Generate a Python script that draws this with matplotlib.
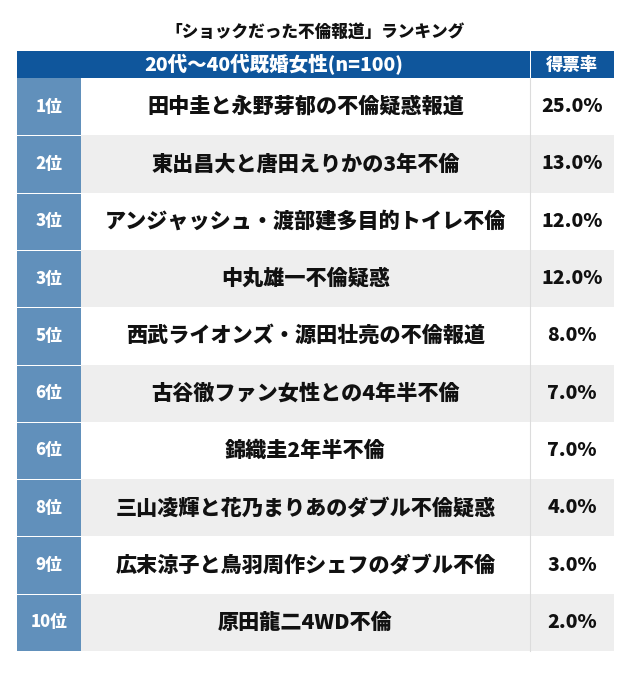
import matplotlib
matplotlib.use("Agg")
import matplotlib.pyplot as plt
from matplotlib.patches import Rectangle

plt.rcParams['font.family'] = ['Noto Sans CJK JP', 'DejaVu Sans']

title = "「ショックだった不倫報道」ランキング"
header_name = "20代〜40代既婚女性(n=100)"
header_pct = "得票率"
ranks = ["1位", "2位", "3位", "3位", "5位", "6位", "6位", "8位", "9位", "10位"]
items = [
    "田中圭と永野芽郁の不倫疑惑報道",
    "東出昌大と唐田えりかの3年不倫",
    "アンジャッシュ・渡部建多目的トイレ不倫",
    "中丸雄一不倫疑惑",
    "西武ライオンズ・源田壮亮の不倫報道",
    "古谷徹ファン女性との4年半不倫",
    "錦織圭2年半不倫",
    "三山凌輝と花乃まりあのダブル不倫疑惑",
    "広末涼子と鳥羽周作シェフのダブル不倫",
    "原田龍二4WD不倫",
]
shares = [25.0, 13.0, 12.0, 12.0, 8.0, 7.0, 7.0, 4.0, 3.0, 2.0]

W, H = 640, 674
fig = plt.figure(figsize=(W / 100, H / 100), dpi=100)
ax = fig.add_axes([0, 0, 1, 1])
ax.set_xlim(0, W)
ax.set_ylim(H, 0)
ax.axis("off")

HEADER_BLUE = "#0f569c"
RANK_BLUE = "#6190bb"
GRAY = "#eeeeee"
WT = "black"

x0, x1, x2, x3 = 17, 81, 530, 614
hy0, hy1 = 51, 78
row_h = (651 - hy1) / len(items)

ax.text((x0 + x3) / 2, 32, title, ha="center", va="center",
        fontsize=12, fontweight=WT, color="#111111")

# header
ax.add_patch(Rectangle((x0, hy0), x2 - x0, hy1 - hy0, color=HEADER_BLUE, lw=0))
ax.add_patch(Rectangle((x2 + 1, hy0), x3 - x2 - 1, hy1 - hy0, color=HEADER_BLUE, lw=0))
ax.text((x0 + x2) / 2, (hy0 + hy1) / 2, header_name, ha="center", va="center",
        fontsize=14, fontweight=WT, color="white")
ax.text((x2 + x3) / 2, (hy0 + hy1) / 2, header_pct, ha="center", va="center",
        fontsize=12.5, fontweight=WT, color="white")

for i, (r, name, s) in enumerate(zip(ranks, items, shares)):
    top = hy1 + i * row_h
    cy = top + row_h / 2
    bg = "white" if i % 2 == 0 else GRAY
    ax.add_patch(Rectangle((x1, top), x3 - x1, row_h, color=bg, lw=0))
    ax.add_patch(Rectangle((x0, top + (1 if i > 0 else 0)), x1 - x0,
                           row_h - (1 if i > 0 else 0), color=RANK_BLUE, lw=0))
    ax.text((x0 + x1) / 2, cy, r, ha="center", va="center",
            fontsize=12, fontweight=WT, color="white")
    ax.text((x1 + x2) / 2, cy, name, ha="center", va="center",
            fontsize=15.2, fontweight=WT, color="#111111")
    ax.text((x2 + x3) / 2, cy, f"{s:.1f}%", ha="center", va="center",
            fontsize=14, fontweight=WT, color="#111111")

ax.plot([x2, x2], [hy1, 651], color="#dcdcdc", lw=0.8)

fig.savefig("out.png", dpi=100, facecolor="white")
